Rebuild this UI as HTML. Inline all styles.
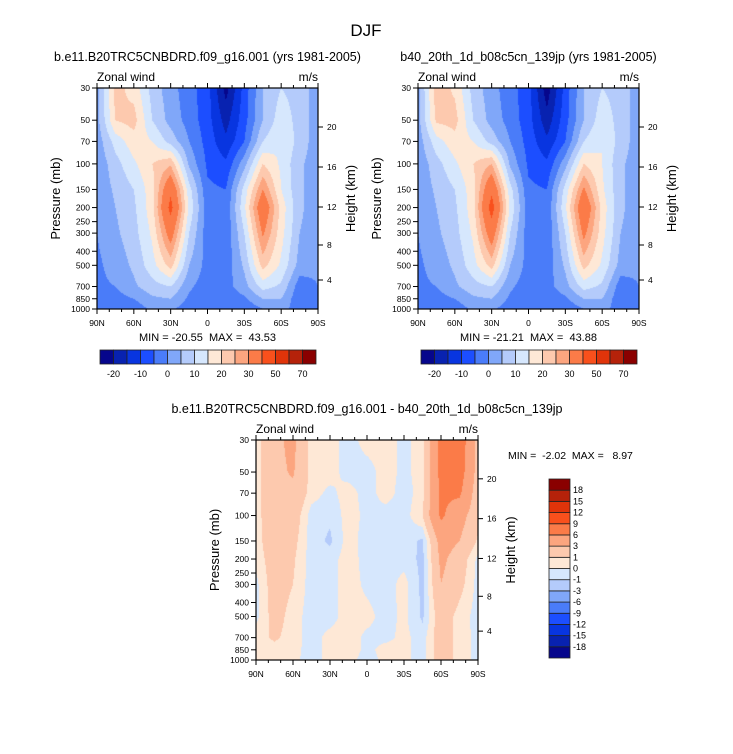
<!DOCTYPE html>
<html><head><meta charset="utf-8">
<style>
body{margin:0;background:#fff;}
#root{position:relative;width:733px;height:754px;overflow:hidden;font-family:"Liberation Sans",sans-serif;color:#000;}
canvas{position:absolute;}
svg{position:absolute;left:0;top:0;}
text{white-space:pre;}
</style></head>
<body>
<div id="root">
<canvas id="c1" width="221" height="221" style="left:97px;top:88px"></canvas>
<canvas id="c2" width="221" height="221" style="left:418px;top:88px"></canvas>
<canvas id="c3" width="222" height="220" style="left:256px;top:440px"></canvas>
<svg id="sv" width="733" height="754"></svg>
</div>
<script>
const lats=[90,75,60,45,30,15,0,-15,-30,-45,-60,-75,-90];
const plevs=[30,50,70,100,150,200,300,500,700,850,1000];
const ptickVals=[30,50,70,100,150,200,250,300,400,500,700,850,1000];
const latTicks=["90N","60N","30N","0","30S","60S","90S"];
const kmTicks=["20","16","12","8","4"];
const kmOffsets=[39,79,119,157,192];
const colors=["#06068c","#0822b0","#0835e0","#1c4eff","#4a7cf9","#80a7f9","#b4cbfb","#d6e7fd","#fee8d6","#fdc9ae","#fca57f","#fb7b48","#f9501c","#e0340a","#b5220a","#8a0000"];
const levels1=[-20,-15,-10,-5,0,5,10,15,20,25,30,40,50,60,70];
const levels3=[-18,-15,-12,-9,-6,-3,-1,0,1,3,6,9,12,15,18];
const cbLabels1=["-20","-10","0","10","20","30","50","70"];
const u1=[
[3,22,18,8,2,-3,-8,-22,-8,5,10,8,2],
[3,20,22,10,3,-2,-8,-17,-7,5,13,8,2],
[2,12,18,15,8,0,-7,-14,-5,10,15,8,2],
[1,8,14,20,24,4,-6,-9,3,20,14,6,2],
[1,6,10,18,38,12,-4,-5,12,30,15,6,2],
[0,5,9,18,43,14,-3,-4,14,37,18,6,2],
[0,4,8,16,34,10,-3,-4,10,31,17,5,2],
[-1,2,6,13,22,5,-2,-3,6,22,14,3,1],
[-1,0,4,8,10,1,-3,-2,3,12,9,-3,0],
[-2,-2,0,4,5,-1,-4,-3,-1,5,5,-4,0],
[-3,-4,-3,1,1,-3,-3,-5,-4,0,2,-3,0]];
const u2=[
[3,23,19,8,2,-3,-8,-23,-8,5,10,8,2],
[3,21,22,10,3,-2,-8,-18,-7,5,13,8,2],
[2,13,18,15,8,0,-7,-14,-5,10,15,8,2],
[1,8,14,20,25,4,-6,-9,3,20,15,6,2],
[1,6,10,18,38,12,-4,-5,12,31,16,6,2],
[0,5,9,18,44,14,-3,-4,14,38,18,6,2],
[0,4,8,16,35,10,-3,-4,10,32,17,5,2],
[-1,2,6,13,22,5,-2,-3,6,22,14,3,1],
[-1,0,4,8,10,1,-3,-2,3,12,9,-3,0],
[-2,-2,0,4,5,-1,-4,-3,-1,5,5,-4,0],
[-3,-4,-3,1,1,-3,-3,-5,-4,0,2,-3,0]];
const u3=[
[0.5,2.5,3.5,0.5,0.5,-0.5,0.5,0.5,-0.3,0.5,7,8,2],
[0.5,2.5,3.2,0.5,0.5,-0.5,-0.5,0.5,-0.3,0.5,7,7.5,2],
[0.5,2.5,2.5,0.5,-0.3,0.5,-0.5,0.5,-0.5,0.5,6.5,6.5,1.5],
[0.5,2.2,2,-0.5,-0.8,0.5,-0.3,-0.5,-0.5,1,6.5,4,1.5],
[0.5,2,1.5,-0.5,-1.2,0.5,-0.5,-0.5,-0.5,-1.2,4,3,0.8],
[0.3,1.8,1.2,-0.5,-0.5,0.6,-0.5,-0.5,-0.4,-1.3,3.5,2,-0.3],
[-0.3,1.8,1,-0.5,-0.5,0.6,-0.3,-0.5,0.4,-1.3,3,1.5,-0.4],
[-0.3,1.6,0.5,-0.5,-0.5,0.6,0.4,-0.5,0.3,-1.2,2,0.5,-0.4],
[0.5,1.2,0.5,-0.5,0.4,0.6,-0.3,-0.3,0.3,-0.5,2,0.5,-0.3],
[0.5,0.6,0.4,-0.5,0.4,0.6,-0.3,0.4,0.3,-0.5,2,0.5,-0.3],
[0.5,0.5,0.3,-0.5,0.4,0.4,-0.5,0.3,0.3,-0.5,2,0.5,-0.3]];

const NS="http://www.w3.org/2000/svg";
const sv=document.getElementById('sv');
function mk(tag,attrs,txt){const e=document.createElementNS(NS,tag);for(const k in attrs)e.setAttribute(k,attrs[k]);if(txt!==undefined)e.textContent=txt;sv.appendChild(e);return e;}
function yOfP(p,top,H){return top+H*Math.log(p/30)/Math.log(1000/30);}
function xOfLat(lat,left,W){return left+W*(90-lat)/180;}
function sample(grid,lat,p){
  let ci=(90-lat)/15; let c0=Math.min(Math.floor(ci),lats.length-2); let fx=ci-c0;
  const lp=Math.log(p); let r0=0;
  while(r0<plevs.length-2&&Math.log(plevs[r0+1])<lp)r0++;
  let fy=(lp-Math.log(plevs[r0]))/(Math.log(plevs[r0+1])-Math.log(plevs[r0]));
  fy=Math.max(0,Math.min(1,fy));
  const a=grid[r0][c0],b=grid[r0][c0+1],c=grid[r0+1][c0],d=grid[r0+1][c0+1];
  return (a*(1-fx)+b*fx)*(1-fy)+(c*(1-fx)+d*fx)*fy;
}
function hex(h){return [parseInt(h.substr(1,2),16),parseInt(h.substr(3,2),16),parseInt(h.substr(5,2),16)];}
const rgb=colors.map(hex);
function drawContour(id,grid,levels){
  const cv=document.getElementById(id);const ctx=cv.getContext('2d');
  const W=cv.width,H=cv.height;const img=ctx.createImageData(W,H);
  for(let j=0;j<H;j++){const p=30*Math.exp((j+0.5)/H*Math.log(1000/30));
    for(let i=0;i<W;i++){const lat=90-180*(i+0.5)/W;const v=sample(grid,lat,p);
      let k=0;while(k<levels.length&&v>=levels[k])k++;
      const c=rgb[k];const o=(j*W+i)*4;img.data[o]=c[0];img.data[o+1]=c[1];img.data[o+2]=c[2];img.data[o+3]=255;}}
  ctx.putImageData(img,0,0);
}
drawContour('c1',u1,levels1);
drawContour('c2',u2,levels1);
drawContour('c3',u3,levels3);

function axes(left,top,W,H,title,minmax){
  const fr=mk('rect',{x:left,y:top,width:W,height:H,fill:'none',stroke:'#000','stroke-width':1.2});
  
  
  const t=mk('text',{x:left+W/2,y:top-27,'text-anchor':'middle','font-size':12.5},title);
  
  
  const zw=mk('text',{x:left,y:top-7,'font-size':12},'Zonal wind');
  
  
  const ms=mk('text',{x:left+W,y:top-7,'text-anchor':'end','font-size':12},'m/s');
  
  
  for(let lat=90;lat>=-90;lat-=10){const x=xOfLat(lat,left,W);const maj=(lat%30===0);const L=maj?5:3;
    const a=mk('line',{x1:x,x2:x,y1:top+H,y2:top+H+L,stroke:'#000','stroke-width':1});
    
    
    const b=mk('line',{x1:x,x2:x,y1:top,y2:top-L,stroke:'#000','stroke-width':1});
    
    }
  latTicks.forEach((s,i)=>{const x=left+W*i/6;
    const e=mk('text',{x:x,y:top+H+17,'text-anchor':'middle','font-size':8.5},s);
    
    });
  ptickVals.forEach(p=>{const y=yOfP(p,top,H);
    const l=mk('line',{x1:left-5,x2:left,y1:y,y2:y,stroke:'#000','stroke-width':1});
    
    
    const e=mk('text',{x:left-7,y:y+3,'text-anchor':'end','font-size':8.5},String(p));
    
    });
  kmTicks.forEach((s,i)=>{const y=top+kmOffsets[i]*H/221;
    const l=mk('line',{x1:left+W,x2:left+W+5,y1:y,y2:y,stroke:'#000','stroke-width':1});
    
    
    const e=mk('text',{x:left+W+9,y:y+3,'font-size':8.5},s);
    
    });
  const yl=mk('text',{x:0,y:0,'text-anchor':'middle','font-size':13,transform:`translate(${left-37},${top+H/2}) rotate(-90)`},'Pressure (mb)');
  
  
  const hl=mk('text',{x:0,y:0,'text-anchor':'middle','font-size':13,transform:`translate(${left+W+37},${top+H/2}) rotate(-90)`},'Height (km)');
  
  
  if(minmax){const m=mk('text',{x:left+W/2,y:top+H+32,'text-anchor':'middle','font-size':11},minmax);
    
    }
}
function hbar(left,top,w,h){
  const bw=w/colors.length;
  colors.forEach((c,i)=>{const r=mk('rect',{x:left+i*bw,y:top,width:bw,height:h,fill:c,stroke:'#222','stroke-width':0.8});
    
    });
  cbLabels1.forEach((s,i)=>{const e=mk('text',{x:left+(2*i+1)*bw,y:top+h+13,'text-anchor':'middle','font-size':9},s);
    
    });
}
function vbar(left,top,w,h){
  const bh=h/colors.length;
  colors.forEach((c,i)=>{const r=mk('rect',{x:left,y:top+h-(i+1)*bh,width:w,height:bh,fill:c,stroke:'#222','stroke-width':0.8});
    
    });
  levels3.forEach((v,i)=>{const e=mk('text',{x:left+w+3,y:top+h-(i+1)*bh+3,'font-size':9},String(v));
    
    });
}
const main=mk('text',{x:366,y:36,'text-anchor':'middle','font-size':17},'DJF');


axes(97,88,221,221,'b.e11.B20TRC5CNBDRD.f09_g16.001 (yrs 1981-2005)','MIN = -20.55  MAX =  43.53');
axes(418,88,221,221,'b40_20th_1d_b08c5cn_139jp (yrs 1981-2005)','MIN = -21.21  MAX =  43.88');
axes(256,440,222,220,'b.e11.B20TRC5CNBDRD.f09_g16.001 - b40_20th_1d_b08c5cn_139jp',null);
const mm=mk('text',{x:508,y:459,'font-size':10.5},'MIN =  -2.02  MAX =   8.97');


hbar(100,350,216,14);
hbar(421,350,216,14);
vbar(549,479,21,179);
</script>
</body></html>
